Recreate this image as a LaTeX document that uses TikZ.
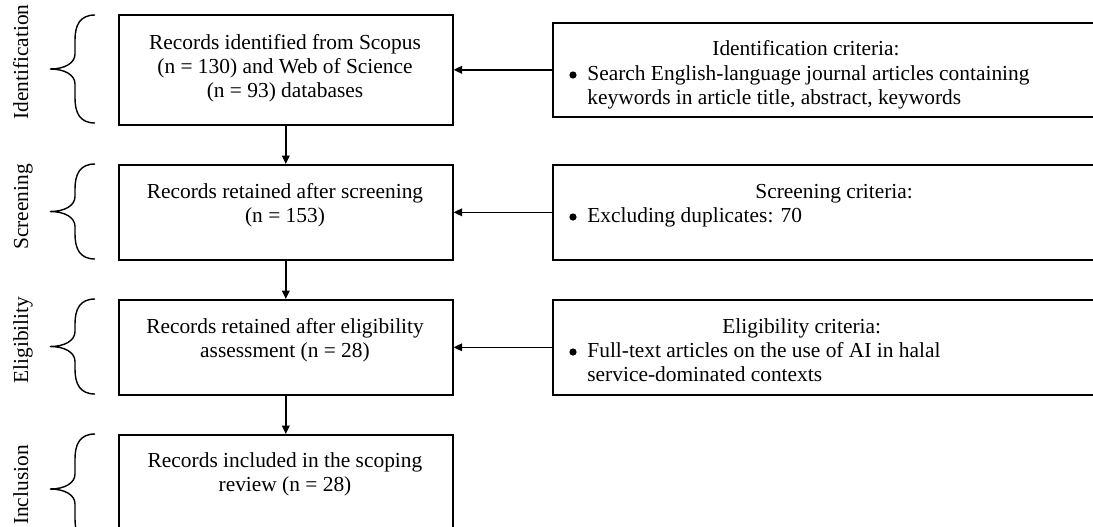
\documentclass[tikz,border=0pt]{standalone}
\usepackage{fontspec}
\setmainfont{Liberation Serif}
\usetikzlibrary{arrows.meta}
\begin{document}
\begin{tikzpicture}[x=0.5pt,y=-0.5pt,
  every node/.style={font=\fontsize{10.7pt}{12pt}\selectfont, inner sep=0pt},
  stagebox/.style={draw, line width=0.8pt, anchor=north west, minimum width=167pt},
  critbox/.style={draw, line width=0.8pt, anchor=north west, minimum width=290pt},
  arr/.style={line width=0.75pt, -{Triangle[length=4.2pt,width=3.8pt]}},
  txt/.style={anchor=base, align=center},
  ttl/.style={anchor=base west},
  itm/.style={anchor=base west, align=left},
  bul/.style={circle, fill, minimum size=3.6pt},
  phase/.style={anchor=base, rotate=90},
  phasebrace/.pic={
    \draw[line width=0.7pt] (45,{-#1}) .. controls (30,{-#1}) and (25,{-#1+10}) .. (25,{-#1+25})
      -- (25,-15) .. controls (25,-6) and (15,0) .. (0,0)
      .. controls (15,0) and (25,6) .. (25,15)
      -- (25,{#1-25}) .. controls (25,{#1-10}) and (30,{#1}) .. (45,{#1});
  }]
\useasboundingbox (0,0) rectangle (1093,526);
\clip (0,0) rectangle (1093,526);

% stage boxes
\node[stagebox, minimum height=55pt]   (b1) at (118,14)  {};
\node[stagebox, minimum height=47.5pt] (b2) at (118,164) {};
\node[stagebox, minimum height=47.5pt] (b3) at (118,299) {};
\node[stagebox, minimum height=55pt]   (b4) at (118,434) {};

% criteria boxes
\node[critbox, minimum height=47pt]   (r1) at (552,22)  {};
\node[critbox, minimum height=47.5pt] (r2) at (552,164) {};
\node[critbox, minimum height=47.5pt] (r3) at (552,299) {};

% stage texts (anchor on the baseline of the last line)
\node[txt] (t1) at (285,97)  {Records identified from Scopus\\(n = 130) and Web of Science\\(n = 93) databases};
\node[txt] (t2) at (285,222) {Records retained after screening\\(n = 153)};
\node[txt] (t3) at (285,357) {Records retained after eligibility\\assessment (n = 28)};
\node[txt] (t4) at (285,491) {Records included in the scoping\\review (n = 28)};

% criteria texts
\node[ttl] (c1) at (712,55)  {Identification criteria:};
\node[bul] (d1) at (573,75)  {};
\node[itm] (i1) at (587,104) {Search English-language journal articles containing\\keywords in article title, abstract, keywords};

\node[ttl] (c2) at (755,198) {Screening criteria:};
\node[bul] (d2) at (573,217) {};
\node[itm] (i2) at (587,222) {Excluding duplicates: 70};

\node[ttl] (c3) at (722,333) {Eligibility criteria:};
\node[bul] (d3) at (573,352) {};
\node[itm] (i3) at (587,381) {Full-text articles on the use of AI in halal\\service-dominated contexts};

% connectors
\draw[arr] (r1.west) -- (b1.east);
\draw[arr] (r2.west) -- (b2.east);
\draw[arr] (r3.west) -- (b3.east);
\draw[arr] (b1.south) -- (b2.north);
\draw[arr] (b2.south) -- (b3.north);
\draw[arr] (b3.south) -- (b4.north);

% braces
\pic at (50,69)    {phasebrace=54};
\pic at (50,211.5) {phasebrace=47.5};
\pic at (50,346.5) {phasebrace=47.5};
\pic at (50,489)   {phasebrace=55};

% phase labels
\node[phase] (p1) at (28,62)  {Identification};
\node[phase] (p2) at (28,207) {Screening};
\node[phase] (p3) at (28,340) {Eligibility};
\node[phase] (p4) at (28,485) {Inclusion};
\end{tikzpicture}
\end{document}
